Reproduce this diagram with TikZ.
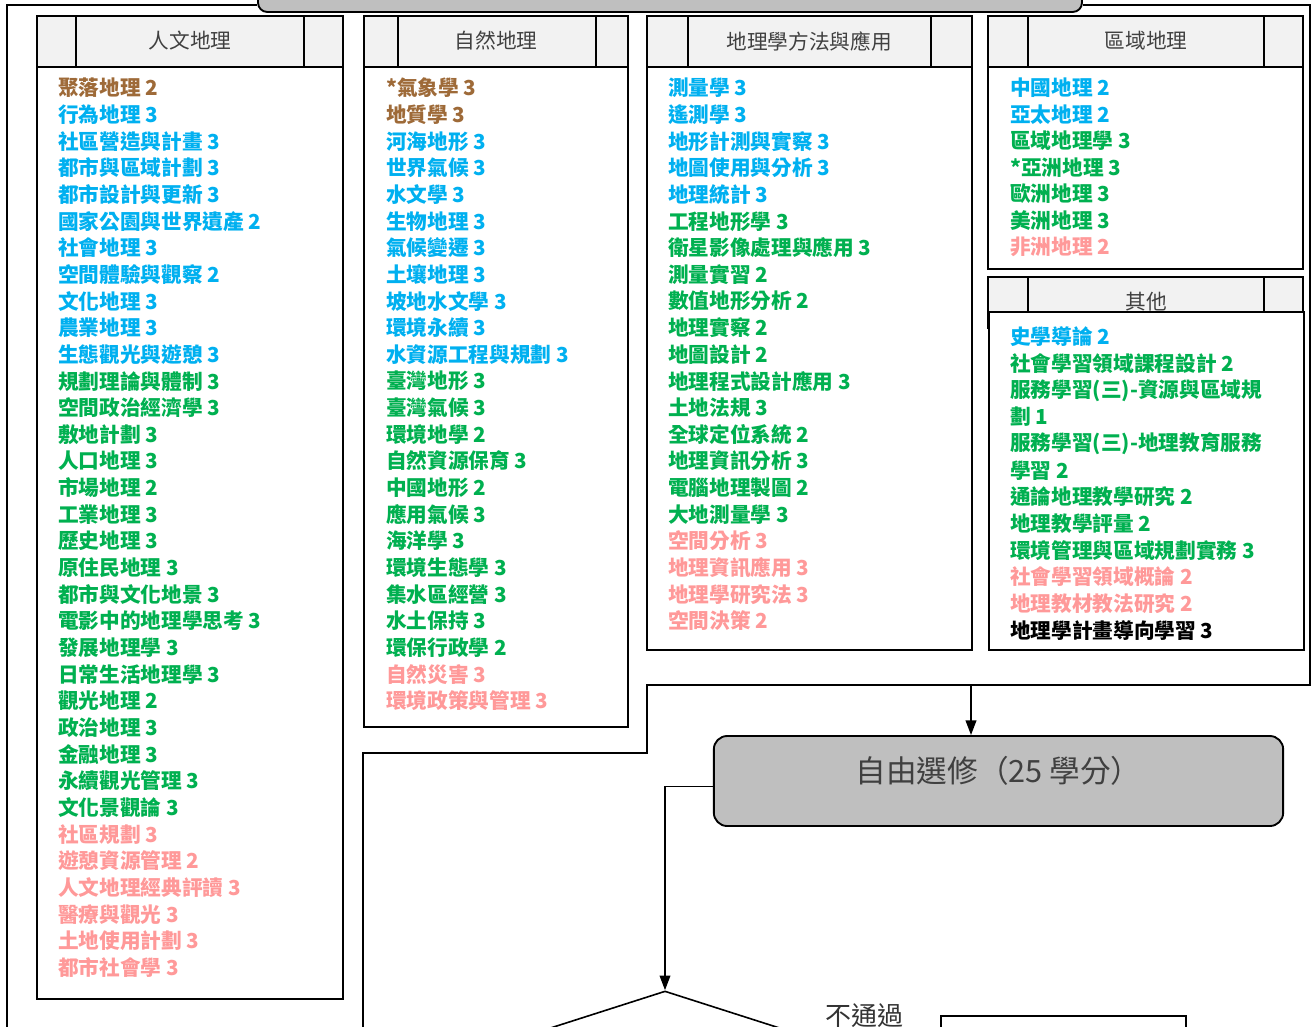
\documentclass[tikz,border=0pt]{standalone}
\usepackage{fontspec}
\setmainfont{Noto Sans CJK TC}
\usetikzlibrary{arrows.meta,shapes.geometric}

\definecolor{brn}{HTML}{9E6A38}
\definecolor{blu}{HTML}{00B0F0}
\definecolor{grn}{HTML}{00B050}
\definecolor{pnk}{HTML}{FF9999}
\definecolor{blk}{HTML}{000000}
\definecolor{hdrgray}{HTML}{F2F2F2}
\definecolor{boxgray}{HTML}{BFBFBF}

\tikzset{
  hdr/.style={draw, fill=hdrgray, line width=1.4pt},
  hdrtxt/.style={text=black!75, inner sep=0pt, font=\fontsize{15.5}{18}\selectfont},
  body/.style={draw, fill=white, line width=1.4pt},
  item/.style={anchor=west, inner sep=0pt, font=\bfseries\fontsize{15.5}{18}\selectfont},
  flow/.style={line width=1.2pt},
  tip/.style={-{Triangle[length=11pt,width=8pt]}},
}

\begin{document}
\begin{tikzpicture}[x=0.75pt,y=-0.75pt]
\useasboundingbox (0,0) rectangle (1314,1026);

% top box and outer frame
\node[draw, fill=boxgray, rounded corners=7pt, line width=1.4pt, minimum width=618pt, minimum height=39pt] (top) at (670,-14) {};
\coordinate (y5) at (0,5);
\draw[flow] (top.west |- y5) -- (7,5) -- (7,1040);
\draw[flow] (top.east |- y5) -- (1310,5) -- (1310,685) -- (647,685) -- (647,753) -- (363,753) -- (363,1040);

% column headers
\draw[hdr] (37,16) rectangle (343,67);
\draw[line width=1.4pt] (76,16) -- (76,67) (304,16) -- (304,67);
\node[hdrtxt] (hRen) at (190,41) {人文地理};

\draw[hdr] (364,16) rectangle (628,67);
\draw[line width=1.4pt] (398,16) -- (398,67) (596,16) -- (596,67);
\node[hdrtxt] (hNat) at (496,41) {自然地理};

\draw[hdr] (647,16) rectangle (972,67);
\draw[line width=1.4pt] (688,16) -- (688,67) (931,16) -- (931,67);
\node[hdrtxt] (hMet) at (809,41) {地理學方法與應用};

\draw[hdr] (988,16) rectangle (1303,67);
\draw[line width=1.4pt] (1028,16) -- (1028,67) (1264,16) -- (1264,67);
\node[hdrtxt] (hReg) at (1146,41) {區域地理};

\draw[hdr] (988,277) rectangle (1303,328);
\draw[line width=1.4pt] (1028,277) -- (1028,328) (1264,277) -- (1264,328);
\node[hdrtxt] (hOth) at (1146,302) {其他};

% column bodies
\draw[body] (37,67) rectangle (343,999);
\draw[body] (364,67) rectangle (628,727);
\draw[body] (647,67) rectangle (972,650);
\draw[body] (988,67) rectangle (1303,269);
\draw[body] (989,312) rectangle (1304,650);

% course lists
\foreach \c/\t [count=\i] in {brn/聚落地理 2, blu/行為地理 3, blu/社區營造與計畫 3,
  blu/都市與區域計劃 3, blu/都市設計與更新 3, blu/國家公園與世界遺產 2, blu/社會地理 3,
  blu/空間體驗與觀察 2, blu/文化地理 3, blu/農業地理 3, blu/生態觀光與遊憩 3,
  grn/規劃理論與體制 3, grn/空間政治經濟學 3, grn/敷地計劃 3, grn/人口地理 3,
  grn/市場地理 2, grn/工業地理 3, grn/歷史地理 3, grn/原住民地理 3, grn/都市與文化地景 3,
  grn/電影中的地理學思考 3, grn/發展地理學 3, grn/日常生活地理學 3, grn/觀光地理 2,
  grn/政治地理 3, grn/金融地理 3, grn/永續觀光管理 3, grn/文化景觀論 3,
  pnk/社區規劃 3, pnk/遊憩資源管理 2, pnk/人文地理經典評讀 3, pnk/醫療與觀光 3,
  pnk/土地使用計劃 3, pnk/都市社會學 3} {
    \node[item, text=\c] (ren\i) at (58,{88+26.65*(\i-1)}) {\t};
}

\foreach \c/\t [count=\i] in {brn/*氣象學 3, brn/地質學 3, blu/河海地形 3, blu/世界氣候 3,
  blu/水文學 3, blu/生物地理 3, blu/氣候變遷 3, blu/土壤地理 3, blu/坡地水文學 3,
  blu/環境永續 3, blu/水資源工程與規劃 3, grn/臺灣地形 3, grn/臺灣氣候 3, grn/環境地學 2,
  grn/自然資源保育 3, grn/中國地形 2, grn/應用氣候 3, grn/海洋學 3, grn/環境生態學 3,
  grn/集水區經營 3, grn/水土保持 3, grn/環保行政學 2, pnk/自然災害 3, pnk/環境政策與管理 3} {
    \node[item, text=\c] (nat\i) at (386,{88+26.65*(\i-1)}) {\t};
}

\foreach \c/\t [count=\i] in {blu/測量學 3, blu/遙測學 3, blu/地形計測與實察 3,
  blu/地圖使用與分析 3, blu/地理統計 3, grn/工程地形學 3, grn/衛星影像處理與應用 3,
  grn/測量實習 2, grn/數值地形分析 2, grn/地理實察 2, grn/地圖設計 2, grn/地理程式設計應用 3,
  grn/土地法規 3, grn/全球定位系統 2, grn/地理資訊分析 3, grn/電腦地理製圖 2,
  grn/大地測量學 3, pnk/空間分析 3, pnk/地理資訊應用 3, pnk/地理學研究法 3, pnk/空間決策 2} {
    \node[item, text=\c] (met\i) at (668,{88+26.65*(\i-1)}) {\t};
}

\foreach \c/\t [count=\i] in {blu/中國地理 2, blu/亞太地理 2, grn/區域地理學 3,
  grn/*亞洲地理 3, grn/歐洲地理 3, grn/美洲地理 3, pnk/非洲地理 2} {
    \node[item, text=\c] (reg\i) at (1010,{88+26.5*(\i-1)}) {\t};
}

\foreach \c/\t [count=\i] in {blu/史學導論 2, grn/社會學習領域課程設計 2,
  grn/服務學習(三)-資源與區域規, grn/劃 1, grn/服務學習(三)-地理教育服務, grn/學習 2,
  grn/通論地理教學研究 2, grn/地理教學評量 2, grn/環境管理與區域規劃實務 3,
  pnk/社會學習領域概論 2, pnk/地理教材教法研究 2, blk/地理學計畫導向學習 3} {
    \node[item, text=\c] (oth\i) at (1010,{337+26.65*(\i-1)}) {\t};
}

% free electives and below
\node[draw, fill=boxgray, rounded corners=10pt, line width=1.4pt, minimum width=427pt, minimum height=67.5pt,
  text=black!75, text height=17pt, text depth=15pt, font=\fontsize{23}{26}\selectfont] (free) at (998.5,781) {自由選修（25 學分）};
\coordinate (j1) at (971,685);
\draw[flow, tip] (j1) -- (j1 |- free.north);

\node[draw, diamond, line width=1.2pt, minimum width=327pt, minimum height=105pt] (chk) at (665,1061) {};
\draw[flow, tip] ([yshift=-4pt]free.west) -| (chk.north);

\node[text=black!80, font=\fontsize{19.5}{22}\selectfont] (fail) at (864,1016) {不通過};
\node[draw, line width=1.2pt, minimum width=184pt, minimum height=50pt, anchor=north west] (next) at (940,1015) {};

\end{tikzpicture}
\end{document}
